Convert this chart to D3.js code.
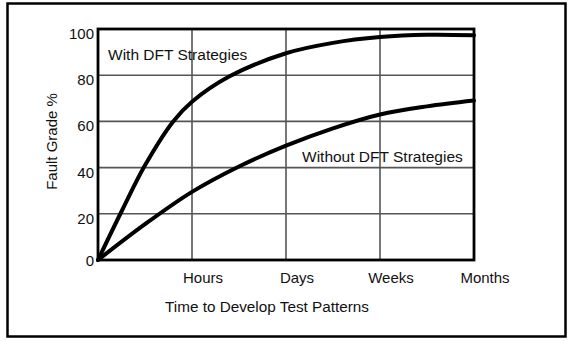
<!DOCTYPE html>
<html lang="en">

<head>
    <meta charset="UTF-8">
    <title>Fault Grade vs Time to Develop Test Patterns</title>
    <script src="https://d3js.org/d3.v7.min.js"></script>
    <style>
        body {
            margin: 0;
            overflow: hidden;
            background-color: white;
        }

        text {
            font-family: "Liberation Sans", Arial, Helvetica, sans-serif;
            fill: #111;
        }

        .grid line {
            stroke: #555;
            stroke-width: 1.6;
        }

        .curve {
            fill: none;
            stroke: #000;
            stroke-width: 4;
            stroke-linecap: round;
        }
    </style>
</head>

<body>
    <svg id="chart"></svg>

    <script>
        // chart values
        var timeLabels = ["Hours", "Days", "Weeks", "Months"];
        var yTicks = [0, 20, 40, 60, 80, 100];

        // x is in steps: 0 = start, 1 = Hours, 2 = Days, 3 = Weeks, 4 = Months
        var withDftX = [0, 0.25, 0.5, 0.8, 1, 1.4, 2, 2.5, 3, 3.5, 4];
        var withDftY = [0, 21, 41, 60, 68.5, 79.5, 89.5, 94, 96.5, 97.5, 97.3];

        var withoutDftX = [0, 0.5, 1, 1.5, 2, 2.5, 3, 3.5, 4];
        var withoutDftY = [0, 15.5, 29.5, 40.5, 49.5, 57, 63, 66.5, 69];

        var width = 572;
        var height = 341;

        var svg = d3.select("#chart")
            .attr("width", width)
            .attr("height", height);

        // outer frame
        svg.append("rect")
            .attr("x", 7.5)
            .attr("y", 3.5)
            .attr("width", 558)
            .attr("height", 333)
            .attr("fill", "none")
            .attr("stroke", "#000")
            .attr("stroke-width", 2.5);

        var plot = { left: 98, right: 474, top: 29, bottom: 260 };

        var x = d3.scaleLinear().domain([0, 4]).range([plot.left, plot.right]);
        var y = d3.scaleLinear().domain([0, 100]).range([plot.bottom, plot.top]);

        // grid lines
        var grid = svg.append("g").attr("class", "grid");

        grid.selectAll(".hline")
            .data(yTicks.slice(1, -1))
            .enter().append("line")
            .attr("x1", plot.left)
            .attr("x2", plot.right)
            .attr("y1", function (d) { return y(d); })
            .attr("y2", function (d) { return y(d); });

        grid.selectAll(".vline")
            .data(timeLabels.slice(0, -1))
            .enter().append("line")
            .attr("x1", function (d, i) { return x(i + 1); })
            .attr("x2", function (d, i) { return x(i + 1); })
            .attr("y1", plot.top)
            .attr("y2", plot.bottom);

        // plot border
        svg.append("rect")
            .attr("x", plot.left)
            .attr("y", plot.top)
            .attr("width", plot.right - plot.left)
            .attr("height", plot.bottom - plot.top)
            .attr("fill", "none")
            .attr("stroke", "#000")
            .attr("stroke-width", 2.8);

        // y tick labels (sit just under their grid line)
        svg.selectAll(".ylab")
            .data(yTicks)
            .enter().append("text")
            .attr("class", "ylab")
            .attr("x", plot.left - 4)
            .attr("y", function (d) { return Math.min(y(d) + 10, y(0) + 6); })
            .attr("text-anchor", "end")
            .style("font-size", "15px")
            .text(function (d) { return d; });

        // x tick labels
        svg.selectAll(".xlab")
            .data(timeLabels)
            .enter().append("text")
            .attr("class", "xlab")
            .attr("x", function (d, i) { return x(i + 1) + 11; })
            .attr("y", 283)
            .attr("text-anchor", "middle")
            .style("font-size", "15px")
            .text(function (d) { return d; });

        // axis titles
        svg.append("text")
            .attr("x", 267)
            .attr("y", 311.5)
            .attr("text-anchor", "middle")
            .style("font-size", "15.3px")
            .text("Time to Develop Test Patterns");

        svg.append("text")
            .attr("transform", "translate(56.5,141.5) rotate(-90)")
            .attr("text-anchor", "middle")
            .style("font-size", "15px")
            .text("Fault Grade %");

        // curves
        var line = d3.line()
            .x(function (d) { return x(d[0]); })
            .y(function (d) { return y(d[1]); })
            .curve(d3.curveCatmullRom.alpha(0.5));

        svg.append("path")
            .attr("class", "curve")
            .attr("d", line(d3.zip(withDftX, withDftY)));

        svg.append("path")
            .attr("class", "curve")
            .attr("d", line(d3.zip(withoutDftX, withoutDftY)));

        // series labels
        svg.append("text")
            .attr("x", 108)
            .attr("y", 60)
            .style("font-size", "15.5px")
            .text("With DFT Strategies");

        svg.append("text")
            .attr("x", 302)
            .attr("y", 162)
            .style("font-size", "15.5px")
            .text("Without DFT Strategies");
    </script>
</body>

</html>
